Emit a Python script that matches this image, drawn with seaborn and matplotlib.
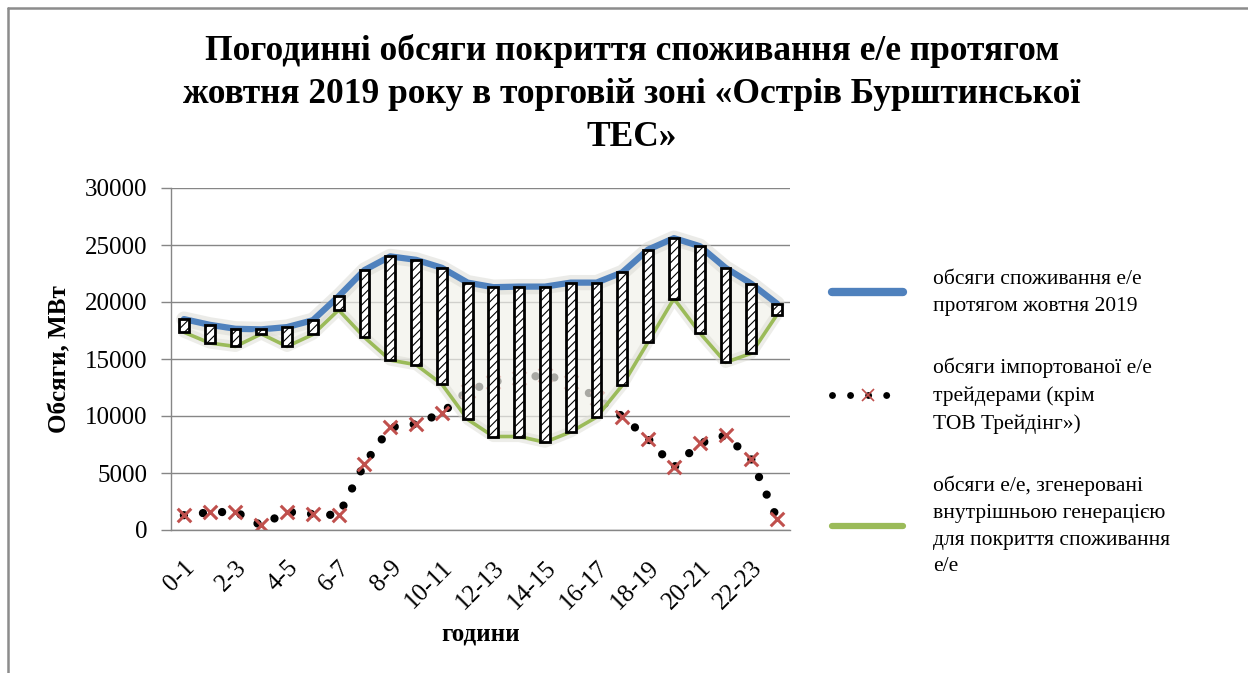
import numpy as np
import matplotlib
matplotlib.use("Agg")
import matplotlib.pyplot as plt
import matplotlib.patheffects as pe
from matplotlib.lines import Line2D
import seaborn as sns

# hourly values, MW
hour_labels = [f"{h}-{h + 1}" for h in range(24)]
consumption = [18500, 18000, 17650, 17600, 17800, 18400, 20500, 22800, 24000, 23700, 23000, 21700,
               21300, 21350, 21350, 21700, 21700, 22600, 24600, 25600, 24900, 23000, 21600, 19850]
generation = [17350, 16400, 16100, 17200, 16100, 17150, 19300, 16900, 14900, 14500, 12800, 9700,
              8200, 8200, 7700, 8600, 9900, 12700, 16500, 20300, 17300, 14700, 15500, 18900]
imports = [1300, 1550, 1600, 400, 1600, 1400, 1300, 5800, 9000, 9300, 10250, 12200,
           13000, 13300, 13600, 13000, 11600, 9950, 8000, 5500, 7600, 8300, 6200, 1000]

title = "Погодинні обсяги покриття споживання е/е протягом\nжовтня 2019 року в торговій зоні «Острів Бурштинської\nТЕС»"
legend_labels = [
    "обсяги споживання е/е\nпротягом жовтня 2019",
    "обсяги імпортованої е/е\nтрейдерами (крім\nТОВ Трейдінг»)",
    "обсяги е/е, згенеровані\nвнутрішньою генерацією\nдля покриття споживання\nе/е",
]

blue = "#4F81BD"
green = "#9BBB59"
red = "#C0504D"
grid_col = "#868686"

sns.set_style("white")
plt.rcParams["font.family"] = ["Liberation Serif", "DejaVu Serif"]
plt.rcParams["hatch.linewidth"] = 0.8
for key in ["text.color", "axes.labelcolor", "xtick.labelcolor", "ytick.labelcolor"]:
    plt.rcParams[key] = "black"

x = np.arange(len(hour_labels))

fig = plt.figure(figsize=(12.48, 6.73), dpi=100)
ax = fig.add_axes([171 / 1248, 1 - 530 / 673, (790 - 171) / 1248, (530 - 188) / 673])

# imports: round-dot line + red crosses
dots = (0, (0.001, 2.3))
sns.lineplot(x=x, y=imports, ax=ax, color="black", linewidth=6,
             linestyle=dots, dash_capstyle="round", zorder=2)
sns.scatterplot(x=x, y=imports, ax=ax, marker="x", s=95, color=red, linewidth=2.2, zorder=2.2)

# light band between consumption and generation
ax.fill_between(x, generation, consumption, color="#f1f1ea", alpha=0.7, linewidth=0, zorder=2.5)

glow = [pe.Stroke(linewidth=11, foreground="#d8d8d2", alpha=0.5), pe.Normal()]
sns.lineplot(x=x, y=consumption, ax=ax, color=blue, linewidth=4.5, zorder=3,
             path_effects=glow, solid_capstyle="round")
glow_g = [pe.Stroke(linewidth=8, foreground="#dcdcd4", alpha=0.5), pe.Normal()]
sns.lineplot(x=x, y=generation, ax=ax, color=green, linewidth=2.6, zorder=3,
             path_effects=glow_g, solid_capstyle="round")

# up-down bars
heights = np.array(consumption) - np.array(generation)
ax.bar(x, heights, bottom=generation, width=0.38, color="white", edgecolor="black",
       linewidth=2, hatch="////", zorder=4)

ax.set_xlim(-0.5, 23.5)
ax.set_ylim(0, 30000)
ax.set_yticks(np.arange(0, 30001, 5000))
ax.yaxis.grid(True, color=grid_col, linewidth=1)
ax.set_axisbelow(True)

ax.set_xticks(x[::2])
ax.set_xticklabels(hour_labels[::2], rotation=45, ha="right", va="top", rotation_mode="anchor")
ax.set_xticks(np.arange(-0.5, 24, 1), minor=True)
ax.tick_params(axis="x", which="major", length=0, pad=19, labelsize=18)
ax.tick_params(axis="x", which="minor", length=6, width=1, color=grid_col, direction="out")
ax.tick_params(axis="y", length=7, width=1, color=grid_col, direction="out", pad=10, labelsize=18)
ax.tick_params(left=True, bottom=True)

for side in ["top", "right"]:
    ax.spines[side].set_visible(False)
for side in ["left", "bottom"]:
    ax.spines[side].set_color(grid_col)
    ax.spines[side].set_linewidth(1)

ax.set_xlabel("години", fontsize=18, fontweight="bold", labelpad=7)
ax.set_ylabel("Обсяги, МВт", fontsize=18, fontweight="bold", labelpad=10)

fig.text(632 / 1248, 1 - 34 / 673, title, ha="center", va="top", fontsize=25.5,
         fontweight="bold", linespacing=1.4, color="black")

handles = [
    Line2D([], [], color=blue, linewidth=6, solid_capstyle="round"),
    (Line2D([], [], color="black", linewidth=5, linestyle=(0, (0.001, 2.6)), dash_capstyle="round"),
     Line2D([], [], color=red, marker="x", markersize=9, markeredgewidth=1.2, linestyle="none")),
    Line2D([], [], color=green, linewidth=4.5, solid_capstyle="round"),
]
leg = ax.legend(handles, legend_labels, loc="upper left", bbox_to_anchor=(832 / 1248, 1 - 270 / 673),
                bbox_transform=fig.transFigure, frameon=False, fontsize=15.5, handlelength=3.3,
                handletextpad=1.4, labelspacing=1.95, borderpad=0, borderaxespad=0)
for t in leg.get_texts():
    t.set_linespacing(1.55)
    t.set_color("black")

# chart border
fig.add_artist(Line2D([8 / 1248, 1], [1 - 8 / 673] * 2, transform=fig.transFigure, color="#8c8c8c", lw=1.8))
fig.add_artist(Line2D([8 / 1248] * 2, [0, 1 - 8 / 673], transform=fig.transFigure, color="#8c8c8c", lw=1.8))

fig.savefig("out.png", dpi=100)
